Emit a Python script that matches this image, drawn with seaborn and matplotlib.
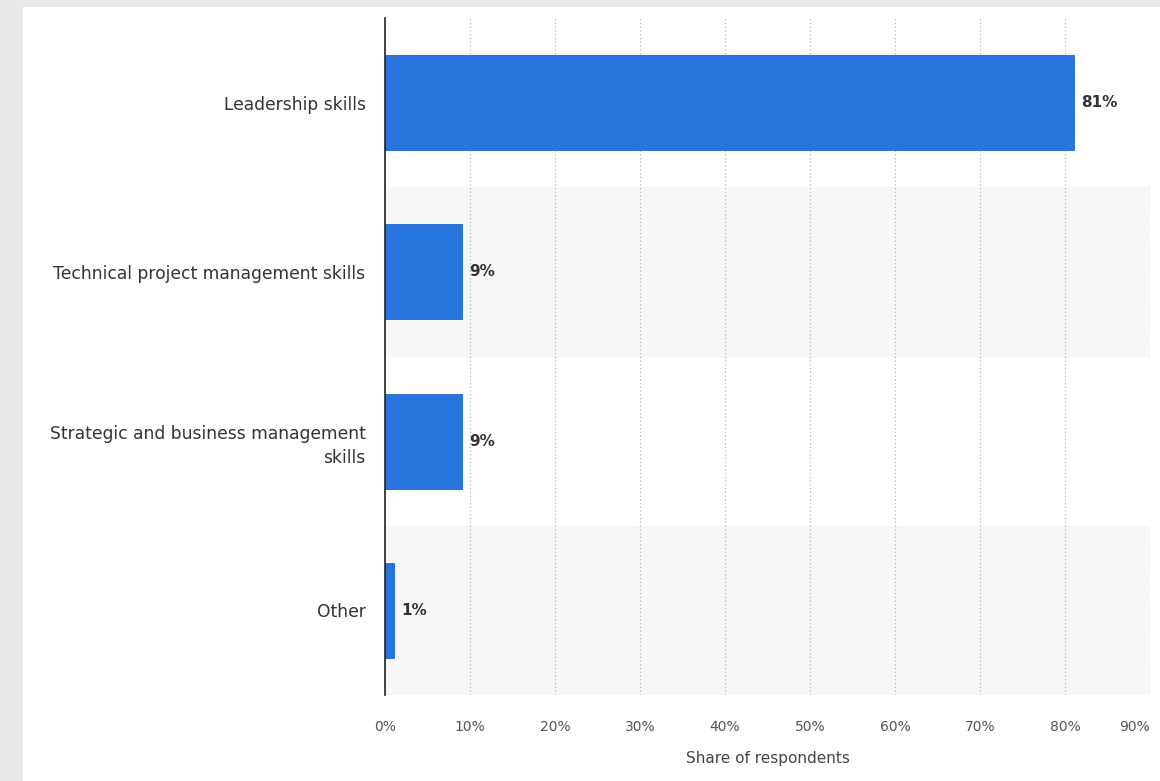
import matplotlib
matplotlib.use("Agg")
import matplotlib.pyplot as plt
import seaborn as sns
import pandas as pd
from matplotlib.patches import Rectangle

categories = ["Leadership skills", "Technical project management skills",
              "Strategic and business management\nskills", "Other"]
values = [81, 9, 9, 1]
xticks = [0, 10, 20, 30, 40, 50, 60, 70, 80, 90]
xtick_labels = [f"{t}%" for t in xticks]
value_labels = [f"{v}%" for v in values]

sns.set_style("white")
plt.rcParams['font.family'] = ['DejaVu Sans']

df = pd.DataFrame({"category": categories, "value": values})

fig = plt.figure(figsize=(11.6, 7.81), dpi=100)
fig.patch.set_facecolor("#e9e9e9")
fig.add_artist(Rectangle((23 / 1160, 0), 1, 1 - 7 / 781, transform=fig.transFigure,
                         facecolor="white", edgecolor="none", zorder=0))

ax = fig.add_axes([385 / 1160, 1 - 695 / 781, (1150 - 385) / 1160, (695 - 18) / 781])
ax.set_facecolor("none")

for i in range(len(categories)):
    if i % 2 == 1:
        ax.axhspan(i - 0.5, i + 0.5, color="#f7f7f7", zorder=0, lw=0)

sns.barplot(data=df, x="value", y="category", color="#2874de", saturation=1,
            width=0.56, ax=ax, zorder=3, edgecolor="#1f66c9", linewidth=0.6)

ax.set_xlim(0, 90)
ax.set_ylim(3.5, -0.5)
ax.set_xticks(xticks)
ax.set_xticklabels(xtick_labels, fontsize=10, color="#555555")
ax.get_xticklabels()[-1].set_horizontalalignment("right")
ax.tick_params(axis="x", length=0, pad=18)
ax.tick_params(axis="y", length=0, pad=14)
for lab in ax.get_yticklabels():
    lab.set_fontsize(12.3)
    lab.set_color("#333333")
    lab.set_horizontalalignment("right")
    lab.set_linespacing(1.45)
ax.grid(axis="x", color="#b5b5b5", linestyle=(0, (1, 2)), linewidth=0.9, zorder=1)
ax.set_axisbelow(True)
for s in ["top", "right", "bottom"]:
    ax.spines[s].set_visible(False)
ax.spines["left"].set_color("#222222")
ax.spines["left"].set_linewidth(1.2)
ax.spines["left"].set_zorder(5)
ax.set_ylabel("")
ax.set_xlabel("Share of respondents", fontsize=11, color="#444444", labelpad=12)

for i, (v, t) in enumerate(zip(values, value_labels)):
    ax.text(v + 0.9, i, t, va="center", ha="left", fontsize=11,
            fontweight="bold", color="#333333", zorder=6)

fig.savefig("out.png", dpi=100)
